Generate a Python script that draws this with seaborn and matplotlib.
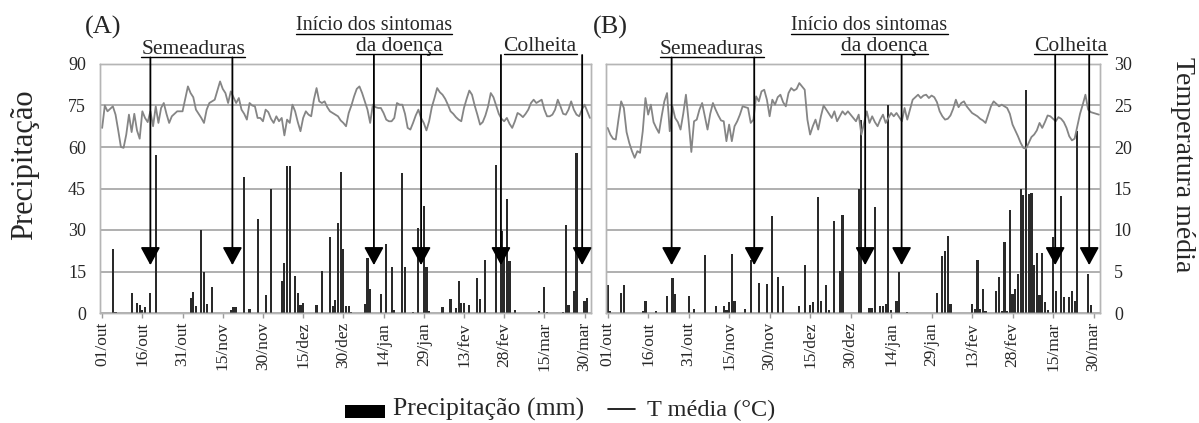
import numpy as np
import pandas as pd
import matplotlib
matplotlib.use("Agg")
import matplotlib.pyplot as plt
import seaborn as sns
from matplotlib.lines import Line2D
from matplotlib.patches import Rectangle

# ---------------- data ----------------
tick_days = [0, 15, 30, 45, 60, 75, 90, 105, 120, 135, 150, 165, 180]
tick_labels = ["01/out", "16/out", "31/out", "15/nov", "30/nov", "15/dez", "30/dez",
               "14/jan", "29/jan", "13/fev", "28/fev", "15/mar", "30/mar"]

rain_days_A = [4, 5, 11, 13, 14, 15, 16, 18, 20, 33, 34, 35, 37, 38, 39, 41, 48, 49, 50, 53,
               55, 58, 61, 63, 67, 68, 69, 70, 72, 73, 74, 75, 80, 82, 85, 86, 87, 88, 89, 90,
               91, 92, 93, 98, 99, 100, 104, 106, 108, 109, 112, 113, 116, 118, 120, 121, 122,
               127, 130, 132, 133, 134, 135, 137, 140, 141, 143, 147, 149, 150, 151, 152, 154,
               163, 165, 166, 172, 173, 174, 176, 177, 180, 181]
rain_mm_A = [23, 0.5, 7.2, 3.5, 3, 1, 2.3, 7.2, 57, 5.3, 7.5, 2.4, 30, 15, 3.2, 9.5, 1, 2, 2, 49,
             1.4, 34, 6.5, 45, 11.4, 18, 53, 53, 13.4, 7.4, 2.9, 3.5, 2.9, 15.2, 27.5, 2.4, 4.8, 32.6, 51, 23.3,
             2.4, 2.4, 0.5, 3.2, 20, 8.6, 7, 25, 16.8, 1.2, 50.6, 16.7, 0.5, 30.6, 38.6, 16.8, 0.8,
             2, 5, 1.7, 11.4, 3.5, 3.5, 2.9, 12.6, 5, 19, 53.6, 29.6, 22.4, 41.3, 18.8, 1.2,
             0.8, 9.5, 0.5, 0.3, 31.8, 2.9, 7.8, 57.8, 4.4, 5.6]

temp_A = [22.3, 25.0, 24.3, 24.6, 24.9, 23.9, 22.0, 20.0, 19.9, 21.5,
          23.9, 21.8, 24.0, 22.0, 21.0, 24.3, 23.5, 23.0, 24.3, 22.5,
          24.9, 22.9, 24.7, 25.3, 24.0, 22.9, 23.7, 24.0, 24.3, 24.3,
          24.3, 25.8, 27.3, 26.5, 26.0, 24.5, 24.0, 23.5, 22.9, 24.5,
          25.3, 25.5, 25.7, 26.8, 27.9, 27.0, 26.5, 25.3, 26.7, 26.0,
          25.3, 25.9, 24.5, 24.0, 23.3, 25.3, 25.0, 24.9, 23.5, 23.5,
          23.1, 24.5, 24.2, 23.4, 22.9, 23.7, 23.1, 23.5, 21.4, 23.3,
          22.9, 25.1, 24.3, 23.0, 21.9, 23.5, 24.3, 23.9, 23.7, 25.7,
          27.1, 25.5, 25.3, 25.5, 24.8, 24.3, 24.1, 23.9, 23.7, 23.2,
          22.9, 22.5, 24.1, 25.0, 26.1, 27.0, 27.3, 26.5, 25.5, 24.5,
          22.9, 25.1, 24.8, 24.7, 24.7, 24.1, 23.3, 23.1, 23.1, 23.5,
          25.3, 25.1, 25.1, 24.0, 22.3, 22.1, 22.9, 23.8, 24.5, 23.5,
          22.9, 22.0, 23.1, 24.8, 25.9, 27.1, 26.6, 26.3, 25.8, 25.1,
          24.3, 24.0, 23.6, 23.3, 23.1, 24.7, 25.8, 26.8, 26.3, 25.0,
          23.9, 22.7, 23.0, 23.8, 24.9, 26.5, 26.0, 25.0, 24.0, 23.4,
          23.1, 23.5, 22.8, 22.3, 23.1, 24.1, 23.9, 23.6, 24.0, 24.5,
          25.3, 25.7, 25.3, 25.5, 25.7, 24.5, 23.7, 23.7, 23.9, 24.5,
          25.7, 24.9, 24.0, 23.9, 24.5, 25.5, 24.5, 23.9, 23.7, 24.5,
          25.1, 24.3, 23.5]

rain_days_B = [0, 1, 5, 6, 13, 14, 18, 22, 24, 25, 30, 32, 36, 40, 43, 44, 45, 46, 47, 51,
               53, 56, 59, 61, 63, 65, 71, 73, 75, 76, 78, 79, 81, 82, 84, 86, 87, 93, 94, 97,
               98, 99, 101, 102, 103, 104, 105, 107, 108, 111, 122, 124, 125, 126, 127, 135, 136,
               137, 138, 139, 140, 144, 145, 146, 147, 148, 149, 150, 151, 152, 153, 154, 155,
               156, 157, 158, 159, 160, 161, 162, 163, 165, 166, 168, 169, 171, 172, 173, 174,
               178, 179]
rain_mm_B = [10, 0.8, 7.2, 10.2, 0.6, 4.2, 0.8, 6, 12.6, 7, 6, 1.4, 20.8, 2.6, 2.6, 1.2, 4, 21.4, 4.2, 1.6,
             19, 11, 10.5, 35, 13, 9.8, 2.5, 17.2, 3, 4, 41.8, 4.3, 10, 1.2, 33.2, 15.1, 35.4, 44.8, 69.6, 1.8,
             1.8, 38.3, 2.4, 2.4, 3.3, 75.3, 1.2, 4.5, 15, 0.3, 7.2, 20.5, 22.5, 28, 3.4, 3.4, 1.6,
             19, 1.5, 8.8, 0.8, 7.8, 12.9, 0.8, 25.5, 0.8, 37.4, 7, 8.7, 14.1, 45, 42.5, 80.7,
             43, 43.3, 17.5, 21.7, 6.6, 21.7, 4, 1.2, 27.4, 8, 42.2, 5.7, 5.7, 8, 4.5, 65.7,
             14, 3]

temp_B = [22.3, 21.5, 21.0, 20.9, 23.3, 25.5, 24.7, 21.8, 20.5, 19.5,
          18.7, 19.5, 19.3, 21.9, 25.9, 23.9, 25.1, 23.0, 22.3, 21.7,
          23.7, 25.5, 26.5, 21.9, 24.9, 23.5, 23.0, 22.1, 24.0, 26.3,
          23.1, 19.4, 23.1, 23.3, 24.5, 25.3, 23.7, 22.1, 24.0, 25.3,
          24.5, 23.8, 23.2, 23.1, 20.7, 22.7, 20.7, 22.5, 23.1, 23.9,
          24.9, 24.8, 24.7, 22.9, 23.3, 26.1, 25.5, 26.7, 26.9, 25.7,
          23.7, 25.7, 25.1, 26.0, 26.3, 25.4, 24.9, 26.5, 27.1, 26.8,
          27.0, 27.7, 27.3, 26.9, 23.3, 21.5, 22.5, 23.3, 22.1, 23.7,
          25.0, 24.5, 24.0, 23.5, 24.3, 23.1, 23.7, 24.3, 23.9, 24.3,
          23.9, 23.5, 23.1, 23.9, 21.5, 22.9, 24.3, 22.9, 23.7, 23.0,
          22.5, 23.3, 23.9, 22.9, 23.5, 24.1, 23.7, 24.1, 23.6, 23.1,
          24.7, 23.3, 24.5, 25.7, 26.0, 26.3, 25.9, 26.2, 26.3, 25.9,
          26.2, 26.0, 25.4, 24.3, 23.7, 23.3, 23.4, 23.8, 24.6, 25.7,
          24.8, 25.3, 25.5, 24.9, 24.5, 24.1, 23.9, 23.7, 23.4, 23.2,
          22.9, 23.9, 24.9, 25.5, 25.2, 24.9, 25.1, 24.9, 24.7, 24.0,
          22.7, 22.0, 21.3, 20.5, 19.9, 19.8, 20.5, 21.2, 21.5, 22.0,
          22.9, 22.3, 23.0, 23.8, 23.7, 23.4, 23.1, 23.6, 23.4, 23.0,
          22.3, 21.3, 20.8, 21.0, 22.5, 24.0, 25.1, 26.3, 24.5, 24.2,
          24.1, 24.0, 23.9]

# event days (arrows)
sowing_A, symptoms_A, harvest_A = [18, 48.6], [101.4, 119.0], [148.8, 179.1]
sowing_B, symptoms_B, harvest_B = [23.7, 54.3], [95.4, 108.9], [165.8, 178.4]

# ---------------- style ----------------
sns.set_style("white")
plt.rcParams["font.family"] = ["Liberation Serif", "DejaVu Serif"]

W, H = 1199, 423
fig = plt.figure(figsize=(W / 100, H / 100), dpi=100)

def px_box(x0, x1, ytop, ybot):
    return [x0 / W, 1 - ybot / H, (x1 - x0) / W, (ybot - ytop) / H]

axA = fig.add_axes(px_box(100, 591, 64, 313))
axB = fig.add_axes(px_box(605.5, 1100, 64, 313))

BAR = "#2a2a2a"
LINE = "#858585"
GRID = "#a9a9a9"

panels = []
for ax, rd, rm, tmp in [(axA, rain_days_A, rain_mm_A, temp_A),
                        (axB, rain_days_B, rain_mm_B, temp_B)]:
    df = pd.DataFrame({"day": rd, "mm": rm})
    sns.barplot(data=df, x="day", y="mm", native_scale=True, color=BAR, saturation=1,
                width=0.8, linewidth=0, errorbar=None, ax=ax)
    ax2 = ax.twinx()
    dft = pd.DataFrame({"day": np.arange(len(tmp)), "t": tmp})
    sns.lineplot(data=dft, x="day", y="t", color=LINE, linewidth=1.3, ax=ax2)
    ax.set_xlim(-0.8, 182.4)
    ax.set_ylim(0, 90)
    ax2.set_ylim(0, 30)
    ax.set_yticks(range(0, 91, 15))
    ax2.set_yticks(range(0, 31, 5))
    ax.set_xticks(tick_days)
    ax.set_xticklabels(tick_labels, rotation=90)
    ax.set_xlabel("")
    ax.set_ylabel("")
    ax2.set_ylabel("")
    ax.yaxis.grid(True, color=GRID, linewidth=1.3)
    ax.set_axisbelow(True)
    for a in (ax, ax2):
        for s in a.spines.values():
            s.set_color("#b5b5b5")
            s.set_linewidth(1.0)
    ax.tick_params(axis="x", length=3.5, width=1, color="#9a9a9a", pad=3, labelsize=12.5,
                   direction="out", bottom=True)
    ax.tick_params(axis="y", length=0, labelsize=13, pad=10)
    ax2.tick_params(axis="y", length=0, labelsize=13, pad=10)
    panels.append((ax, ax2))

(axA, axA2), (axB, axB2) = panels
axA2.tick_params(axis="y", labelright=False)
axB.tick_params(axis="y", labelleft=False)

# ---------------- annotations ----------------
TIP_T = 17.3 / 3.0      # arrow tip (in temperature units, = 17.3 mm)
AX_H = 249.0
texts = []

def group(ax, ax2, label_lines, days, base_px):
    for s, cx, bpx, fs in label_lines:
        yfrac = (313 - bpx) / AX_H
        t = ax2.text(cx, yfrac, s, transform=ax2.get_xaxis_transform(), ha="center",
                     va="baseline", fontsize=fs, clip_on=False)
        texts.append((t, ax2, cx, yfrac))
    ystart = (313 - base_px) / AX_H
    for d in days:
        ax2.annotate("", xy=(d, TIP_T), xycoords="data", xytext=(d, ystart),
                     textcoords=ax2.get_xaxis_transform(), annotation_clip=False,
                     arrowprops=dict(arrowstyle="-|>,head_length=0.55,head_width=0.3",
                                     mutation_scale=20, color="black", lw=1.3,
                                     shrinkA=0, shrinkB=0))

group(axA, axA2, [("Semeaduras", 34.0, 54, 15.5)], sowing_A, 57.5)
group(axA, axA2, [("Início dos sintomas", 101.5, 30, 14.5), ("da doença", 110.8, 51, 15.5)],
      symptoms_A, 55)
group(axA, axA2, [("Colheita", 163.4, 51, 15.5)], harvest_A, 55)
group(axB, axB2, [("Semeaduras", 38.5, 54, 15.5)], sowing_B, 57.5)
group(axB, axB2, [("Início dos sintomas", 97.0, 30, 14.5), ("da doença", 102.6, 51, 15.5)],
      symptoms_B, 55)
group(axB, axB2, [("Colheita", 171.5, 51, 15.5)], harvest_B, 55)

axA.text(-0.03, (313 - 34) / AX_H, "(A)", transform=axA.transAxes, ha="left",
         va="baseline", fontsize=19)
axB.text(-0.026, (313 - 34) / AX_H, "(B)", transform=axB.transAxes, ha="left",
         va="baseline", fontsize=19)

fig.text(25 / W, 1 - 165 / H, "Precipitação", rotation=90, ha="center", va="center",
         fontsize=22)
fig.text(1182 / W, 1 - 165 / H, "Temperatura média", rotation=-90, ha="center",
         va="center", fontsize=20)

# legend
fig.add_artist(Rectangle((345 / W, 1 - 418 / H), 40 / W, 13 / H, transform=fig.transFigure,
                         facecolor="black", edgecolor="none"))
fig.text(393 / W, 1 - 416 / H, "Precipitação (mm)", ha="left", va="baseline", fontsize=18.5)
fig.add_artist(Line2D([608 / W, 635 / W], [1 - 409 / H, 1 - 409 / H], transform=fig.transFigure,
                      color="black", lw=1.2))
fig.text(647 / W, 1 - 416 / H, "T média (°C)", ha="left", va="baseline", fontsize=17.5)

# underlines
fig.canvas.draw()
inv = fig.transFigure.inverted()
for t, ax2, cx, yfrac in texts:
    bb = t.get_window_extent()
    base_y = ax2.get_xaxis_transform().transform((cx, yfrac))[1]
    y = base_y - 3.5
    p0 = inv.transform((bb.x0, y))
    p1 = inv.transform((bb.x1, y))
    fig.add_artist(Line2D([p0[0], p1[0]], [p0[1], p1[1]], transform=fig.transFigure,
                          color="black", lw=1.0))

fig.savefig("out.png", dpi=100)
